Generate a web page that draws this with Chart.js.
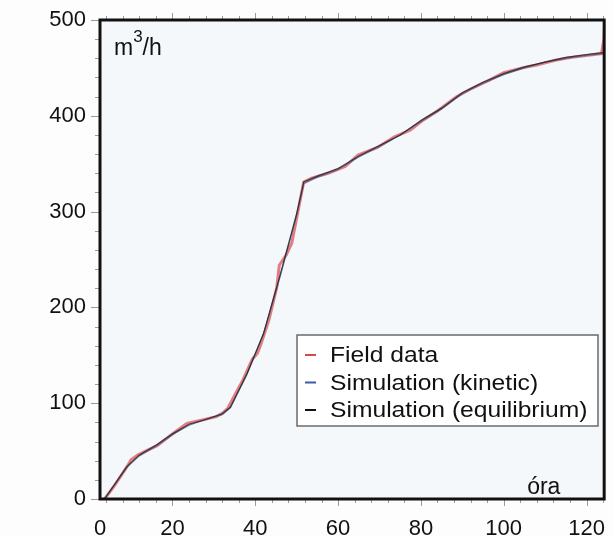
<!DOCTYPE html>
<html>
<head>
<meta charset="utf-8">
<script src="https://cdn.jsdelivr.net/npm/chart.js@4/dist/chart.umd.min.js"></script>
<style>
  html, body { margin:0; padding:0; background:#fdfdfd; }
  #wrap { width:614px; height:537px; position:relative; }
</style>
</head>
<body>
<div id="wrap"><canvas id="chart" width="614" height="537"></canvas></div>
<script>
// field measurements (hours, m3/h)
const fieldHours = [3.6, 6, 9.2, 10, 11.6, 14, 16.4, 20.3, 23.5, 26.7, 30.6, 32.2, 33.4, 35, 37, 39.3, 40.5, 41.4, 43.3, 45.2, 45.8, 47.5, 48.8, 49.3, 51.7, 53.6, 57.6, 61.7, 64.8, 69.5, 73.6, 77.4, 80.7, 84, 88.6, 92, 96.4, 100, 104.5, 108, 112.4, 116.4, 120, 123.6, 124.2, 124.4];
const fieldData  = [0, 14, 35, 41, 46, 51, 56, 69, 79, 82, 86, 90, 95, 108, 124, 146, 152, 162, 187, 221, 244, 255, 267, 278, 331, 335, 340, 347, 359, 367, 378, 385, 396, 405, 420, 428, 437, 445, 450, 453, 458, 461, 463, 465, 480, 500];

// simulated curves
const simHours    = [3.6, 9, 12, 16, 20, 24, 28, 32, 34, 38, 42, 46, 50, 51.7, 55, 60, 65, 70, 75, 80, 85, 90, 95, 100, 105, 110, 115, 120, 124];
const kinetic     = [0, 33, 45, 55, 67, 77, 83, 88, 95, 130, 172, 232, 296, 329, 336, 344, 357, 368, 380, 394, 407, 423, 434, 443, 450, 456, 460, 463, 465];
const equilibrium = [0, 34, 46, 56, 68, 78, 83, 89, 96, 131, 173, 234, 298, 331, 337, 345, 358, 369, 380, 395, 408, 424, 435, 444, 451, 456, 461, 464, 466];

const xTicks = [0, 20, 40, 60, 80, 100, 120];
const yTicks = [0, 100, 200, 300, 400, 500];

const FONT = '"Liberation Sans", Arial, sans-serif';
const pts = (xs, ys) => xs.map((x, i) => ({ x, y: ys[i] }));

const plotBg = {
  id: 'plotBg',
  beforeDraw(chart) {
    const { ctx, chartArea: a } = chart;
    ctx.save();
    ctx.fillStyle = '#f4f8fb';
    ctx.fillRect(a.left, a.top, a.right - a.left, a.bottom - a.top);
    ctx.restore();
  }
};

const frame = {
  id: 'frame',
  afterDatasetsDraw(chart) {
    const { ctx, chartArea: a, scales } = chart;
    ctx.save();
    // minor ticks
    ctx.strokeStyle = '#9a9a9a';
    ctx.lineWidth = 1;
    ctx.beginPath();
    for (let v = 0; v <= 124; v += 4) {
      if (v < scales.x.min) continue;
      const px = Math.round(scales.x.getPixelForValue(v)) + 0.5;
      const len = v % 20 === 0 ? 7 : 4;
      ctx.moveTo(px, a.bottom); ctx.lineTo(px, a.bottom + len);
      ctx.moveTo(px, a.top); ctx.lineTo(px, a.top - len);
    }
    for (let v = 0; v <= 500; v += 20) {
      const py = Math.round(scales.y.getPixelForValue(v)) + 0.5;
      const len = v % 100 === 0 ? 9 : 5;
      ctx.moveTo(a.left, py); ctx.lineTo(a.left - len, py);
    }
    ctx.stroke();
    // box
    ctx.strokeStyle = '#111';
    ctx.lineWidth = 3;
    ctx.strokeRect(a.left, a.top, a.right - a.left - 1, a.bottom - a.top);
    // unit labels
    ctx.fillStyle = '#111';
    ctx.textBaseline = 'alphabetic';
    ctx.font = '23px ' + FONT;
    ctx.fillText('m', a.left + 14, a.top + 35);
    const mw = ctx.measureText('m').width;
    ctx.font = '17px ' + FONT;
    ctx.fillText('3', a.left + 14 + mw, a.top + 22);
    const tw = ctx.measureText('3').width;
    ctx.font = '23px ' + FONT;
    ctx.fillText('/h', a.left + 14 + mw + tw, a.top + 35);
    ctx.fillText('óra', a.right - 78, a.bottom - 5);
    ctx.restore();
  }
};

const boxLegend = {
  id: 'boxLegend',
  afterDraw(chart) {
    const { ctx } = chart;
    const x0 = 297, y0 = 335, w = 301, h = 91;
    ctx.save();
    ctx.fillStyle = '#ffffff';
    ctx.fillRect(x0, y0, w, h);
    ctx.strokeStyle = '#6a6a6a';
    ctx.lineWidth = 1.5;
    ctx.strokeRect(x0, y0, w, h);
    chart.data.datasets.forEach((ds, i) => {
      const cy = y0 + 20 + i * 27.5;
      ctx.strokeStyle = ds.legendColor;
      ctx.lineWidth = 2;
      ctx.beginPath();
      ctx.moveTo(x0 + 8, cy); ctx.lineTo(x0 + 19, cy);
      ctx.stroke();
      ctx.save();
      ctx.translate(x0 + 33, cy);
      ctx.scale(1.12, 1);
      ctx.fillStyle = '#111';
      ctx.font = '22px ' + FONT;
      ctx.textBaseline = 'middle';
      ctx.fillText(ds.label, 0, 1);
      ctx.restore();
    });
    ctx.restore();
  }
};

new Chart(document.getElementById('chart'), {
  type: 'line',
  data: {
    datasets: [
      { label: 'Field data', data: pts(fieldHours, fieldData), borderColor: 'rgba(222,105,105,0.85)', legendColor: '#d94848', borderWidth: 3, order: 3 },
      { label: 'Simulation (kinetic)', data: pts(simHours, kinetic), borderColor: 'rgba(70,90,150,0.8)', legendColor: '#3c5aa8', borderWidth: 1.2, order: 2 },
      { label: 'Simulation (equilibrium)', data: pts(simHours, equilibrium), borderColor: 'rgba(40,40,40,0.85)', legendColor: '#111', borderWidth: 1.2, order: 1 }
    ]
  },
  options: {
    responsive: false,
    animation: false,
    events: [],
    elements: { point: { radius: 0 }, line: { tension: 0 } },
    layout: { padding: { top: 20, right: 3, left: 0, bottom: 0 } },
    plugins: { legend: { display: false }, tooltip: { enabled: false } },
    scales: {
      x: {
        type: 'linear', min: 2.5, max: 124.5,
        afterBuildTicks: s => { s.ticks = [s.min, ...xTicks.filter(v => v > s.min)].map(v => ({ value: v })); },
        afterFit: s => { s.height = 38; },
        grid: { display: false },
        border: { display: false },
        ticks: {
          color: '#111', padding: 9, maxRotation: 0, autoSkip: false,
          font: { family: FONT, size: 22 },
          callback: v => String(xTicks.reduce((b, t) => Math.abs(t - v) < Math.abs(b - v) ? t : b, xTicks[0]))
        }
      },
      y: {
        min: 0, max: 500,
        afterBuildTicks: s => { s.ticks = yTicks.map(v => ({ value: v })); },
        afterFit: s => { s.width = 100; },
        grid: { display: false },
        border: { display: false },
        ticks: { color: '#111', padding: 6, font: { family: FONT, size: 22 } }
      }
    }
  },
  plugins: [plotBg, frame, boxLegend]
});
</script>
</body>
</html>
